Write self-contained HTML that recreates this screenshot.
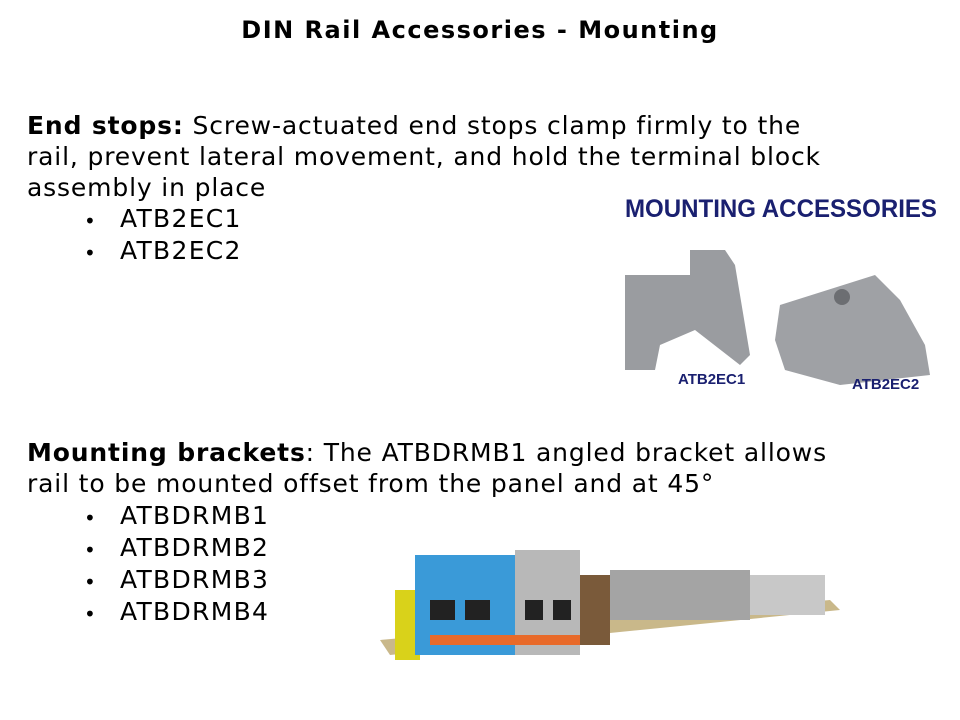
<!DOCTYPE html>
<html><head><meta charset="utf-8"><style>
body{margin:0;width:960px;height:720px;background:#fff;position:relative;overflow:hidden;font-family:"DejaVu Sans","Liberation Sans",sans-serif;color:#000}
.t{position:absolute;white-space:nowrap}
.p{font-size:25px;line-height:31px;letter-spacing:0.85px}
.b{position:absolute;font-size:20px}
.i{position:absolute;font-size:25px;left:120px;letter-spacing:1.3px;line-height:30px}
</style></head><body>
<div class="t" style="left:0;width:960px;text-align:center;top:16px;font-size:24px;font-weight:bold;letter-spacing:1.5px">DIN Rail Accessories - Mounting</div>
<div class="t p" style="left:27px;top:110px"><b>End stops:</b> Screw-actuated end stops clamp firmly to the<br>rail, prevent lateral movement, and hold the terminal block<br>assembly in place</div>
<div class="b" style="left:84px;top:209px">•</div><div class="i" style="top:204px">ATB2EC1</div>
<div class="b" style="left:84px;top:241px">•</div><div class="i" style="top:236px">ATB2EC2</div>
<div class="t p" style="left:27px;top:437px"><b>Mounting brackets</b>: The ATBDRMB1 angled bracket allows<br>rail to be mounted offset from the panel and at 45°</div>
<div class="b" style="left:84px;top:506px">•</div><div class="i" style="top:501px">ATBDRMB1</div>
<div class="b" style="left:84px;top:538px">•</div><div class="i" style="top:533px">ATBDRMB2</div>
<div class="b" style="left:84px;top:570px">•</div><div class="i" style="top:565px">ATBDRMB3</div>
<div class="b" style="left:84px;top:602px">•</div><div class="i" style="top:597px">ATBDRMB4</div>

<svg style="position:absolute;left:600px;top:180px" width="350" height="220">
<text x="25" y="37" font-family="Liberation Sans" font-weight="bold" font-size="25" fill="#1a2070" textLength="312" lengthAdjust="spacingAndGlyphs">MOUNTING ACCESSORIES</text>
<polygon points="25,95 90,95 90,70 125,70 135,85 150,175 140,185 95,150 60,165 55,190 25,190" fill="#9a9ca0"/>
<polygon points="180,125 275,95 300,120 325,165 330,195 240,205 185,190 175,160" fill="#9fa1a5"/>
<circle cx="242" cy="117" r="8" fill="#6c6e72"/>
<text x="78" y="204" font-family="Liberation Sans" font-weight="bold" font-size="15" fill="#1a2070">ATB2EC1</text>
<text x="252" y="209" font-family="Liberation Sans" font-weight="bold" font-size="15" fill="#1a2070">ATB2EC2</text>
</svg>

<svg style="position:absolute;left:370px;top:540px" width="490" height="125">
<polygon points="10,100 460,60 470,70 20,115" fill="#c9b88a"/>
<rect x="25" y="50" width="25" height="70" fill="#d9d21a"/>
<rect x="45" y="15" width="100" height="100" fill="#3a9ad8"/>
<rect x="145" y="10" width="65" height="105" fill="#b8b8b8"/>
<rect x="210" y="35" width="30" height="70" fill="#7a5a3a"/>
<rect x="240" y="30" width="140" height="50" fill="#a4a4a4"/>
<rect x="380" y="35" width="75" height="40" fill="#c8c8c8"/>
<rect x="60" y="60" width="25" height="20" fill="#222"/><rect x="95" y="60" width="25" height="20" fill="#222"/>
<rect x="155" y="60" width="18" height="20" fill="#222"/><rect x="183" y="60" width="18" height="20" fill="#222"/>
<rect x="60" y="95" width="150" height="10" fill="#e86a2a"/>
</svg>
</body></html>
